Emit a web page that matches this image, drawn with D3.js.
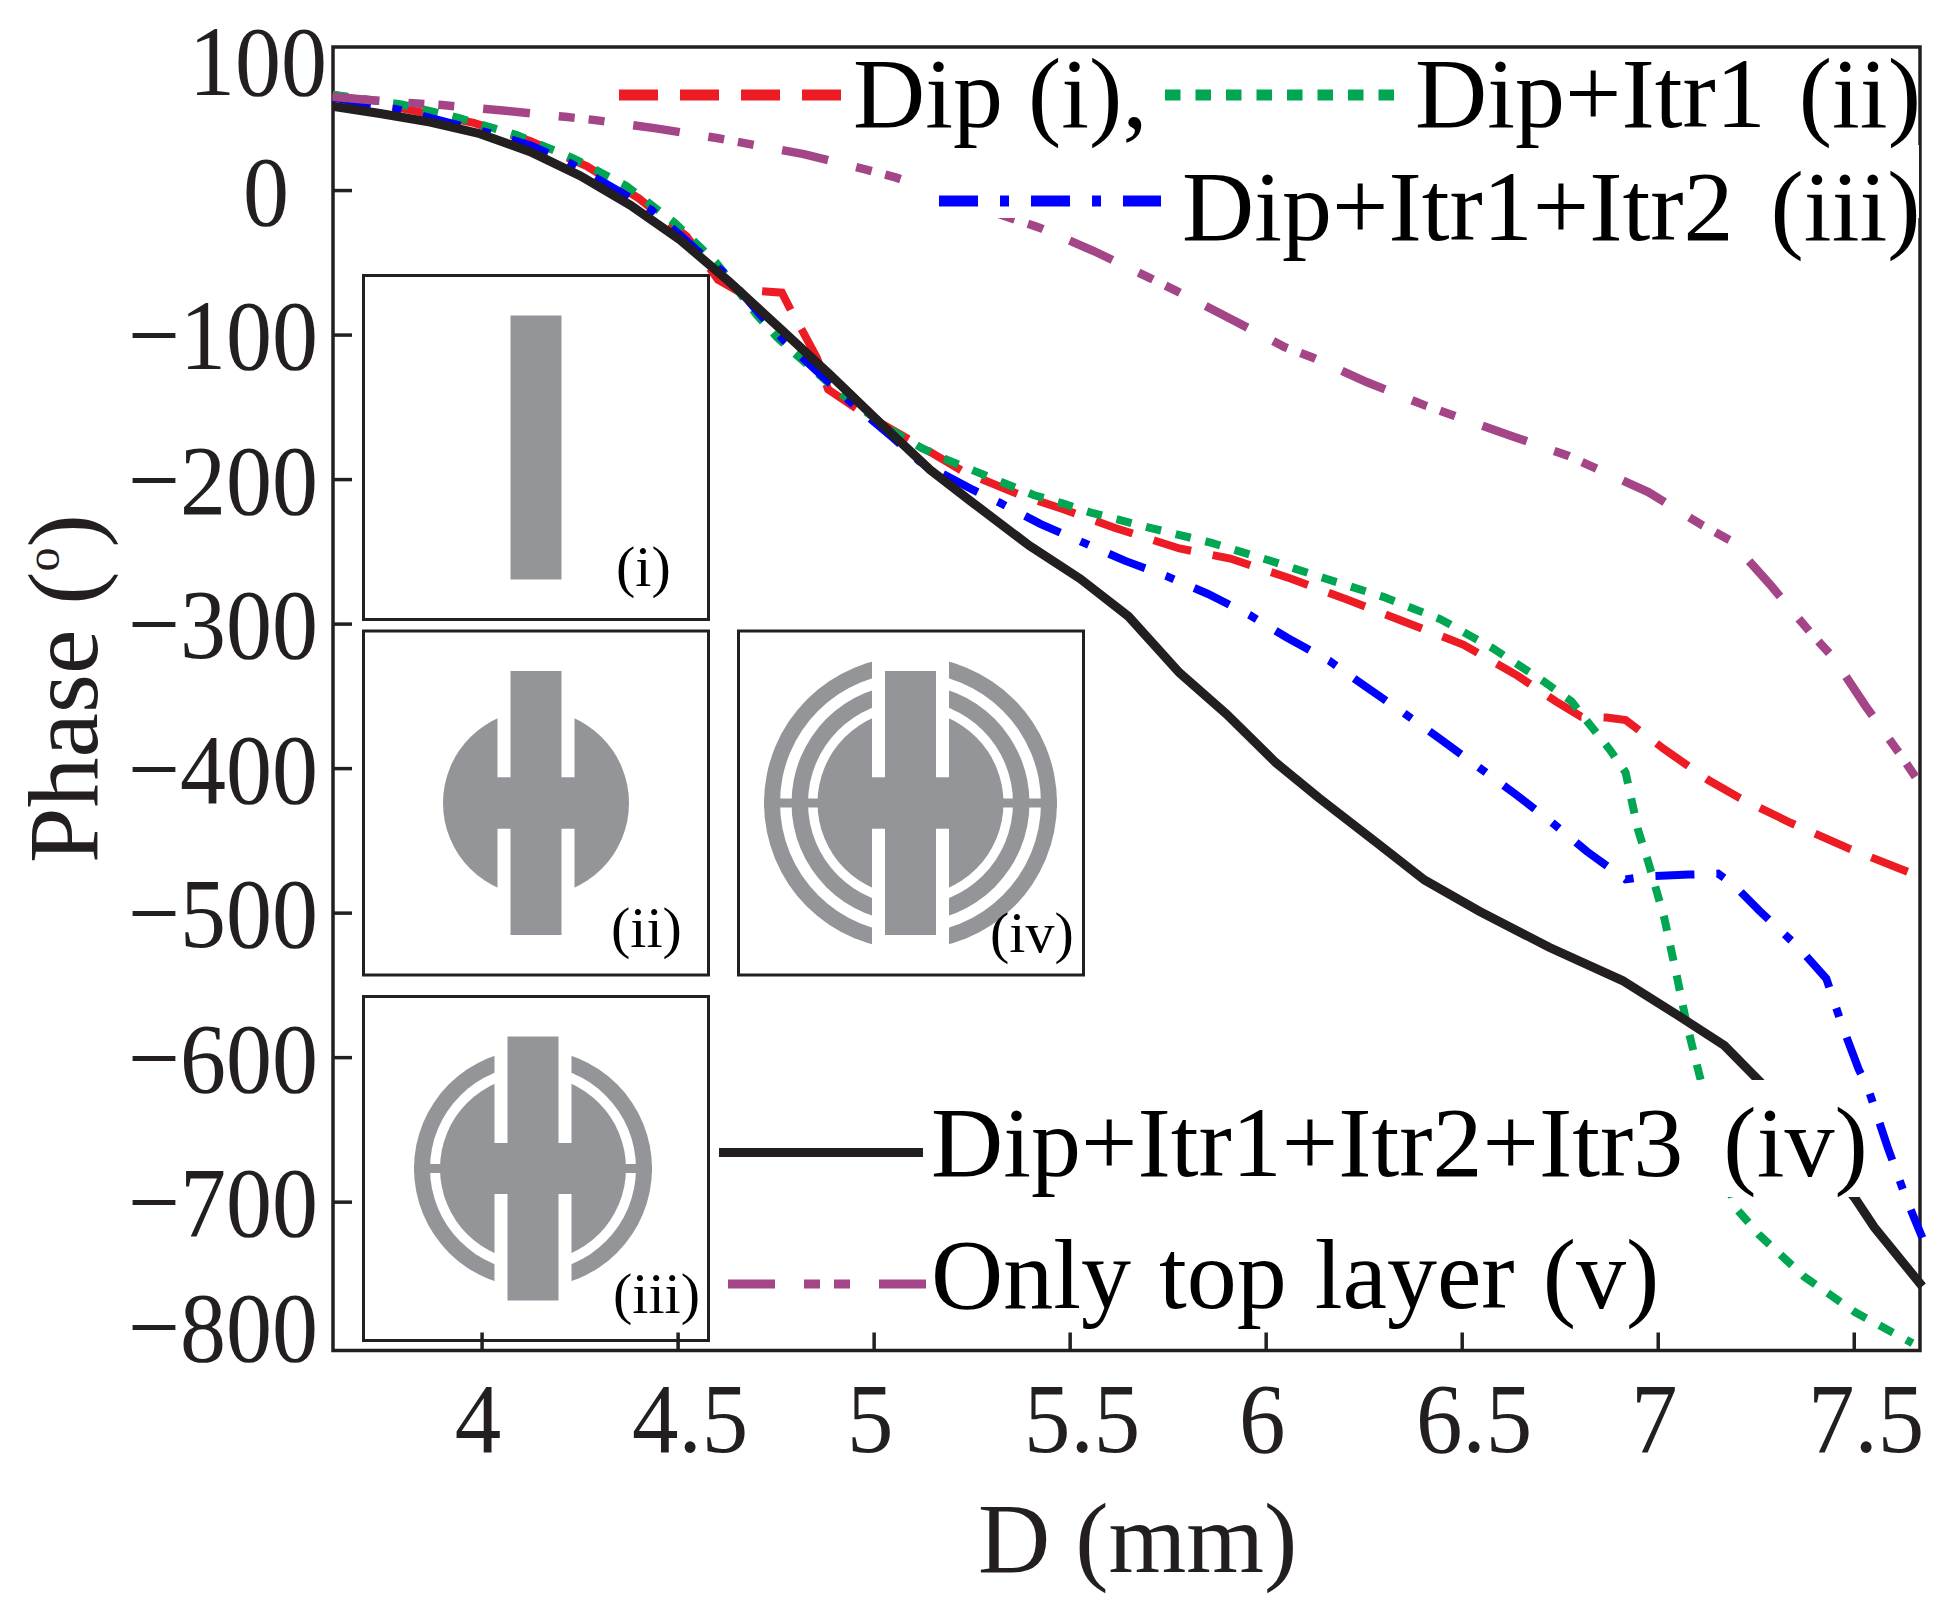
<!DOCTYPE html>
<html>
<head>
<meta charset="utf-8">
<script src="https://cdn.jsdelivr.net/npm/d3@7"></script>
<style>
  body { margin: 0; background: #fff; }
  svg text { font-family: "Liberation Serif", serif; }
</style>
</head>
<body>
<svg id="chart" width="1943" height="1613"></svg>
<script>
// values
const xTicks = [4, 4.5, 5, 5.5, 6, 6.5, 7, 7.5];
const yTicks = [100, 0, -100, -200, -300, -400, -500, -600, -700, -800];

const dipD = [3.62, 3.826, 3.98, 4.124, 4.268, 4.4, 4.523, 4.603, 4.651, 4.715, 4.766, 4.795, 4.817, 4.855, 4.884, 4.966, 5.093, 5.229, 5.374, 5.486, 5.616, 5.78, 5.91, 6.065, 6.204, 6.357, 6.505, 6.642, 6.74, 6.805, 6.87, 6.918, 7.017, 7.13, 7.21, 7.34, 7.488, 7.65];
const dipPhase = [66, 55, 46.5, 34, 16.6, -5.5, -32, -62, -69.6, -70, -71, -86.4, -96.8, -116, -138, -153, -173, -194.8, -211, -221, -233.8, -248, -255, -269, -283, -299, -314.7, -336, -353.8, -364.4, -365, -366.7, -387, -408.4, -420.8, -438, -455.7, -473];

const itr1D = [3.62, 3.792, 3.941, 4.09, 4.234, 4.37, 4.494, 4.6, 4.702, 4.753, 4.807, 4.915, 5.05, 5.123, 5.19, 5.263, 5.335, 5.408, 5.484, 5.552, 5.705, 5.86, 6.006, 6.154, 6.3, 6.446, 6.577, 6.707, 6.78, 6.83, 6.877, 6.918, 6.95, 6.976, 7.017, 7.05, 7.073, 7.106, 7.195, 7.259, 7.374, 7.504, 7.65];
const itr1Phase = [66, 59.5, 50, 38, 22, 2.8, -23, -50.7, -86.4, -101.8, -115, -140.6, -167, -178.6, -187, -195, -203, -211, -217, -223, -233.7, -244, -256, -269, -281.5, -297, -316.7, -339.6, -353.8, -371, -387, -403, -443, -465, -504, -545.6, -576, -612, -703, -723, -752, -776.6, -798];

const itr2D = [3.62, 3.784, 3.911, 4.013, 4.124, 4.226, 4.345, 4.434, 4.549, 4.625, 4.711, 4.77, 4.846, 4.94, 5.05, 5.118, 5.254, 5.323, 5.425, 5.642, 5.746, 5.853, 5.958, 6.055, 6.162, 6.252, 6.348, 6.446, 6.545, 6.642, 6.723, 6.82, 6.918, 6.967, 7.08, 7.154, 7.195, 7.259, 7.359, 7.43, 7.47, 7.512, 7.537, 7.586, 7.634, 7.675];
const itr2Phase = [64, 56, 47, 40, 31, 18.7, 0, -13.8, -41.5, -58.8, -86.4, -103.7, -123, -146.4, -171.5, -187.9, -207.5, -216.5, -231, -256.6, -267, -279.5, -293.9, -309.8, -325.7, -343, -361, -380, -399.7, -419, -436, -457.8, -477, -475, -473.7, -473, -481, -498.6, -524, -545.6, -577.8, -608, -622, -662, -698, -725];

const itr3D = [3.62, 3.741, 3.869, 3.996, 4.124, 4.251, 4.379, 4.507, 4.63, 4.761, 4.889, 5.012, 5.144, 5.254, 5.397, 5.527, 5.65, 5.78, 5.9, 6.025, 6.136, 6.285, 6.405, 6.545, 6.723, 6.91, 7.048, 7.17, 7.268, 7.504, 7.552, 7.675];
const itr3Phase = [58, 53, 47, 39, 26.5, 10, -10.4, -34.6, -63, -95.7, -127.9, -160, -193.6, -216.6, -246, -269, -295, -334, -362.6, -396, -420.7, -452, -477.4, -499, -524, -547, -570.5, -592, -619, -698, -717.6, -758.6];

const topD = [3.62, 3.728, 3.826, 3.9, 4.055, 4.213, 4.29, 4.445, 4.6, 4.822, 4.976, 5.058, 5.356, 5.423, 5.56, 5.705, 5.772, 5.91, 6.048, 6.121, 6.259, 6.406, 6.479, 6.625, 6.773, 6.846, 6.976, 7.114, 7.187, 7.285, 7.389, 7.448, 7.53, 7.619, 7.667];
const topPhase = [64.5, 62, 60, 58.8, 55, 50.7, 48.4, 42.7, 36, 24.9, 14.5, 8.6, -20, -26, -42, -60.9, -69.8, -89, -108.6, -116, -133, -149, -156, -170, -184, -193, -209, -232, -242.7, -272.5, -306, -323.6, -357, -390.7, -410];

const seriesLabels = ["Dip (i),", "Dip+Itr1 (ii)", "Dip+Itr1+Itr2 (iii)", "Dip+Itr1+Itr2+Itr3 (iv)", "Only top layer (v)"];
const insetLabels = ["(i)", "(ii)", "(iii)", "(iv)"];

const red = "#ed1c24", green = "#00a651", blue = "#0000ff", black = "#231f20", purple = "#a44588", gray = "#939598";

const svg = d3.select("#chart");

// plot box
const plotLeft = 333, plotRight = 1920, plotTop = 47, plotBottom = 1350.5;

const x = d3.scaleLinear().domain([3.621, 7.669]).range([plotLeft, plotRight]);
const y = d3.scaleLinear().domain([99, -803]).range([plotTop, plotBottom]);

// inset drawings of the unit cells
function drawInset(g, box, cx, label, labelPos, rings) {
  const cy = box[1] + 172;
  g.append("rect")
    .attr("x", box[0]).attr("y", box[1])
    .attr("width", 345).attr("height", 344)
    .attr("fill", "#fff").attr("stroke", black).attr("stroke-width", 3);

  // rings from the outside in, then the horizontal connector and the slots
  rings.forEach((r, i) => {
    g.append("circle").attr("cx", cx).attr("cy", cy).attr("r", r)
      .attr("fill", i % 2 === 0 ? gray : "#fff");
  });
  if (rings.length > 1) {
    g.append("rect")
      .attr("x", cx - rings[0]).attr("y", cy - 4.5)
      .attr("width", rings[0] * 2).attr("height", 9)
      .attr("fill", gray);
  }
  if (rings.length > 0) {
    const rMax = rings[0] + 1;
    g.append("rect").attr("x", cx - 38.5).attr("y", cy - rMax)
      .attr("width", 77).attr("height", rMax - 25.5).attr("fill", "#fff");
    g.append("rect").attr("x", cx - 38.5).attr("y", cy + 25.5)
      .attr("width", 77).attr("height", rMax - 25.5).attr("fill", "#fff");
    g.append("rect").attr("x", cx - 38.5).attr("y", cy - 25.5)
      .attr("width", 77).attr("height", 51).attr("fill", gray);
  }
  g.append("rect")
    .attr("x", cx - 25.5).attr("y", cy - 132)
    .attr("width", 51).attr("height", 264)
    .attr("fill", gray);

  g.append("text")
    .attr("x", labelPos[0]).attr("y", labelPos[1])
    .attr("font-size", 58).attr("fill", "#000")
    .text(label);
}

const insets = svg.append("g");
drawInset(insets, [363.5, 275.5], 536, insetLabels[0], [616, 586], []);
drawInset(insets, [363.5, 631], 536, insetLabels[1], [611, 947], [93]);
drawInset(insets, [363.5, 996.5], 533, insetLabels[2], [613, 1313], [119, 103, 93]);
drawInset(insets, [738.5, 631], 910.5, insetLabels[3], [990, 952], [146.5, 130.5, 119, 102.5, 93]);

// frame
svg.append("rect")
  .attr("x", plotLeft).attr("y", plotTop)
  .attr("width", plotRight - plotLeft).attr("height", plotBottom - plotTop)
  .attr("fill", "none").attr("stroke", black).attr("stroke-width", 3.5);

// axes
const xAxis = svg.append("g")
  .attr("transform", `translate(0,${plotBottom})`)
  .call(d3.axisBottom(x).tickValues(xTicks).tickSize(-18).tickSizeOuter(0).tickFormat(d => d));
const yAxis = svg.append("g")
  .attr("transform", `translate(${plotLeft},0)`)
  .call(d3.axisLeft(y).tickValues(yTicks).tickSize(-19).tickSizeOuter(0));

xAxis.select(".domain").remove();
yAxis.select(".domain").remove();
svg.selectAll(".tick line").attr("stroke", black).attr("stroke-width", 3.5);
// the end ticks sit on the frame in the original
yAxis.selectAll(".tick").filter(d => d === 100 || d === -800).select("line").remove();

// the tick digits are narrower than the font's own
function squeeze(sel, k) {
  sel.each(function () {
    d3.select(this)
      .attr("textLength", this.getComputedTextLength() * k)
      .attr("lengthAdjust", "spacingAndGlyphs");
  });
}

xAxis.selectAll("text")
  .attr("font-size", 100).attr("fill", black)
  .style("font-family", '"Liberation Serif", serif')
  .attr("dx", d => Number.isInteger(d) ? -4 : 12)
  .attr("y", 101).attr("dy", 0)
  .call(squeeze, 0.93);

yAxis.selectAll("text")
  .attr("font-size", 100).attr("fill", black)
  .style("font-family", '"Liberation Serif", serif')
  .attr("x", d => d > 0 ? -6 : d === 0 ? -44 : -15)
  .attr("dy", d => d === 100 ? 49 : d === -800 ? 14 : 34)
  .call(squeeze, 0.92);

// axis titles
svg.append("text")
  .attr("x", 978).attr("y", 1572)
  .attr("font-size", 100).attr("fill", black)
  .text("D (mm)");

const yTitle = svg.append("text")
  .attr("transform", "translate(97,863) rotate(-90)")
  .attr("font-size", 100).attr("fill", black);
yTitle.append("tspan").text("Phase (");
yTitle.append("tspan").attr("dy", -38).attr("font-size", 48).text("o");
yTitle.append("tspan").attr("dy", 38).text(")");

// curves
const line = d3.line().x(d => x(d[0])).y(d => y(d[1]));

function drawCurve(ds, phases, color, width, dash) {
  svg.append("path")
    .datum(d3.zip(ds, phases))
    .attr("d", line)
    .attr("fill", "none")
    .attr("stroke", color)
    .attr("stroke-width", width)
    .attr("stroke-dasharray", dash)
    .attr("stroke-linejoin", "miter");
}

const redDash = "39 22", greenDash = "15.5 15", blueDash = "39 22 9 22", purpleDash = "47 29 16 14 16 29";

drawCurve(dipD, dipPhase, red, 8, redDash);
drawCurve(itr1D, itr1Phase, green, 8, greenDash);
drawCurve(itr2D, itr2Phase, blue, 8, blueDash);
drawCurve(itr3D, itr3Phase, black, 9, null);
drawCurve(topD, topPhase, purple, 8.5, purpleDash);

// legend, the text boxes hide the curves behind them
const legendBoxes = [[910, 145, 1009, 73], [715, 1080, 1147, 117], [715, 1197, 945, 135]];
svg.selectAll(".legend-box").data(legendBoxes).enter().append("rect")
  .attr("class", "legend-box")
  .attr("x", d => d[0]).attr("y", d => d[1])
  .attr("width", d => d[2]).attr("height", d => d[3])
  .attr("fill", "#fff");

function legendLine(x1, x2, yPos, color, width, dash) {
  svg.append("line")
    .attr("x1", x1).attr("x2", x2).attr("y1", yPos).attr("y2", yPos)
    .attr("stroke", color).attr("stroke-width", width)
    .attr("stroke-dasharray", dash);
}
legendLine(619, 842, 95, red, 11, redDash);
legendLine(1165, 1395, 95, green, 11, greenDash);
legendLine(939, 1161, 201, blue, 11, blueDash);
legendLine(719, 923, 1152.5, black, 9, null);
legendLine(728, 928, 1284, purple, 9, purpleDash);

function legendText(label, xPos, yPos, wordGap) {
  svg.append("text")
    .attr("x", xPos).attr("y", yPos)
    .attr("font-size", 100).attr("fill", "#000")
    .attr("word-spacing", wordGap)
    .text(label);
}
legendText(seriesLabels[0], 853, 127, 0);
legendText(seriesLabels[1], 1415, 127, 8);
legendText(seriesLabels[2], 1182, 240, 12);
legendText(seriesLabels[3], 931, 1176, 15);
legendText(seriesLabels[4], 931, 1308, 3);
</script>
</body>
</html>
